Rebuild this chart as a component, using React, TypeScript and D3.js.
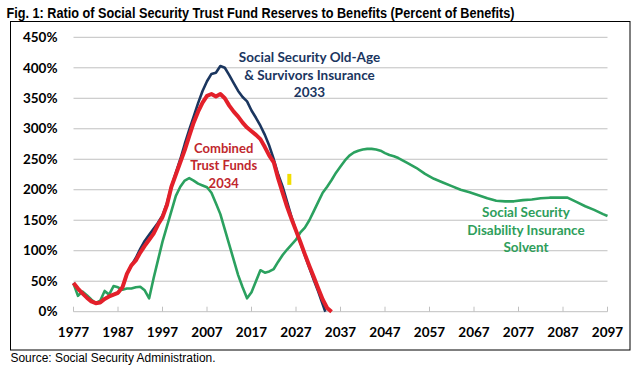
import React from "react";
import * as d3 from "d3";

const years = [1977,1978,1979,1980,1981,1982,1983,1984,1985,1986,1987,1988,1989,1990,1991,1992,1993,1994,1995,1996,1997,1998,1999,2000,2001,2002,2003,2004,2005,2006,2007,2008,2009,2010,2011,2012,2013,2014,2015,2016,2017,2018,2019,2020,2021,2022,2023,2024,2025,2026,2027,2028,2029,2030,2031,2032,2033,2034,2035];

const combined = [47,38,30,23,17,14,15,21,25,28,31,40,62,76,84,97,108,118,128,143,155,175,205,225,245,265,288,310,328,343,354,357,353,357,350,338,328,320,310,302,296,290,283,270,256,245,218,195,172,152,133,114,94,75,57,38,20,6,0];

const oasiYears = [1977,1978,1979,1980,1981,1982,1983,1984,1985,1986,1987,1988,1989,1990,1991,1992,1993,1994,1995,1996,1997,1998,1999,2000,2001,2002,2003,2004,2005,2006,2007,2008,2009,2010,2011,2012,2013,2014,2015,2016,2017,2018,2019,2020,2021,2022,2023,2024,2025,2026,2027,2028,2029,2030,2031,2032,2033,2033.6];
const oasi = [47,38,30,23,17,14,15,21,25,28,31,40,62,76,88,103,116,126,136,146,158,178,205,228,250,275,298,320,342,362,378,390,392,403,400,388,375,362,352,345,330,318,305,290,272,250,225,205,180,155,133,113,92,72,52,33,12,0];

const diYears = [1977,1978,1979,1980,1981,1982,1983,1984,1985,1986,1987,1988,1989,1990,1991,1992,1993,1994,1995,1996,1997,1998,1999,2000,2001,2002,2003,2004,2005,2006,2007,2008,2009,2010,2011,2012,2013,2014,2015,2016,2017,2018,2019,2020,2021,2022,2023,2024,2025,2026,2027,2028,2029,2030,2031,2032,2033,2034,2035,2036,2037,2038,2039,2040,2041,2042,2043,2044,2045,2046,2047,2048,2049,2050,2052,2054,2056,2058,2060,2062,2064,2066,2068,2070,2072,2074,2076,2078,2080,2082,2084,2086,2088,2090,2092,2094,2096,2097];
const di = [46,26,33,27,20,14,18,34,28,42,40,36,38,38,40,41,35,22,55,85,115,140,165,190,205,215,219,215,210,207,204,195,178,160,135,110,85,60,40,22,32,50,68,64,66,70,82,93,102,110,118,130,138,150,165,180,195,205,216,228,238,248,256,261,264,266,267,267,266,264,260,257,255,252,244,236,226,218,212,206,200,196,191,186,182,181,181,183,184,186,187,187,187,180,173,167,160,157];

const yTicks = [0,50,100,150,200,250,300,350,400,450];
const xTicks = [1977,1987,1997,2007,2017,2027,2037,2047,2057,2067,2077,2087,2097];

const title = "Fig. 1: Ratio of Social Security Trust Fund Reserves to Benefits (Percent of Benefits)";
const source = "Source: Social Security Administration.";
const oasiLabel = ["Social Security Old-Age", "& Survivors Insurance", "2033"];
const combinedLabel = ["Combined", "Trust Funds", "2034"];
const diLabel = ["Social Security", "Disability Insurance", "Solvent"];
const yellowMark = { year: 2025.5, from: 208, to: 226 };

const NAVY = "#1B365F";
const RED = "#E3202A";
const GREEN = "#2BA15F";
const GRID = "#C0C0C0";

export default function App() {
  const x = d3.scaleLinear().domain([1977, 2097]).range([73.5, 607.5]);
  const y = d3.scaleLinear().domain([0, 450]).range([311.7, 37.3]);
  const line = d3.line<[number, number]>().x(d => x(d[0])).y(d => y(d[1]));
  const pairs = (xs: number[], vs: number[]) => xs.map((v, i) => [v, vs[i]] as [number, number]);
  const font = "Lato, 'Open Sans', sans-serif";

  return (
    <svg width={637} height={377} style={{ position: "absolute", left: 0, top: 0, background: "#fff" }}>
      <rect x={0} y={0} width={637} height={377} fill="#fff" />
      <text x={6.5} y={18} fontFamily="'Liberation Sans', Arial, sans-serif" fontWeight="bold" fontSize={14}
        textLength={508} lengthAdjust="spacingAndGlyphs" fill="#000">{title}</text>
      <rect x={10.5} y={21.5} width={619.5} height={328.5} fill="none" stroke="#000" strokeWidth={1} />
      {yTicks.map(t => (
        <g key={t}>
          <line x1={x(1977)} x2={x(2097)} y1={y(t)} y2={y(t)} stroke={GRID} strokeWidth={1} />
          <text x={57.5} y={y(t)} dy="0.35em" textAnchor="end" fontFamily={font} fontWeight="bold" fontSize={13.5} fill="#000">{t}%</text>
        </g>
      ))}
      {xTicks.map(t => (
        <g key={t}>
          <line x1={x(t)} x2={x(t)} y1={y(0) - 5} y2={y(0)} stroke={GRID} strokeWidth={1} />
          <text x={x(t)} y={332} dy="0.35em" textAnchor="middle" fontFamily={font} fontWeight="bold" fontSize={13.5} fill="#000">{t}</text>
        </g>
      ))}
      <path d={line(pairs(diYears, di)) || ""} fill="none" stroke={GREEN} strokeWidth={2.6} strokeLinejoin="round" />
      <path d={line(pairs(oasiYears, oasi)) || ""} fill="none" stroke={NAVY} strokeWidth={2.6} strokeLinejoin="round" />
      <path d={line(pairs(years, combined)) || ""} fill="none" stroke={RED} strokeWidth={4} strokeLinejoin="round" />
      <rect x={x(yellowMark.year) - 2} y={y(yellowMark.to)} width={4} height={y(yellowMark.from) - y(yellowMark.to)} fill="#F2DE00" />
      {oasiLabel.map((s, i) => (
        <text key={s} x={309.5} y={57.3 + i * 17.7} dy="0.35em" textAnchor="middle" fontFamily={font} fontWeight="bold" fontSize={13.5} fill={NAVY}>{s}</text>
      ))}
      {combinedLabel.map((s, i) => (
        <text key={s} x={223.7} y={148.3 + i * 17.5} dy="0.35em" textAnchor="middle" fontFamily={font} fontWeight="bold" fontSize={13} fill="#C0272D">{s}</text>
      ))}
      {diLabel.map((s, i) => (
        <text key={s} x={526} y={212.7 + i * 17.5} dy="0.35em" textAnchor="middle" fontFamily={font} fontWeight="bold" fontSize={13.5} fill="#2E9E5B">{s}</text>
      ))}
      <text x={10.5} y={357.7} dy="0.35em" fontFamily="'Liberation Sans', Arial, sans-serif" fontSize={12}
        textLength={205} lengthAdjust="spacingAndGlyphs" fill="#000">{source}</text>
    </svg>
  );
}
